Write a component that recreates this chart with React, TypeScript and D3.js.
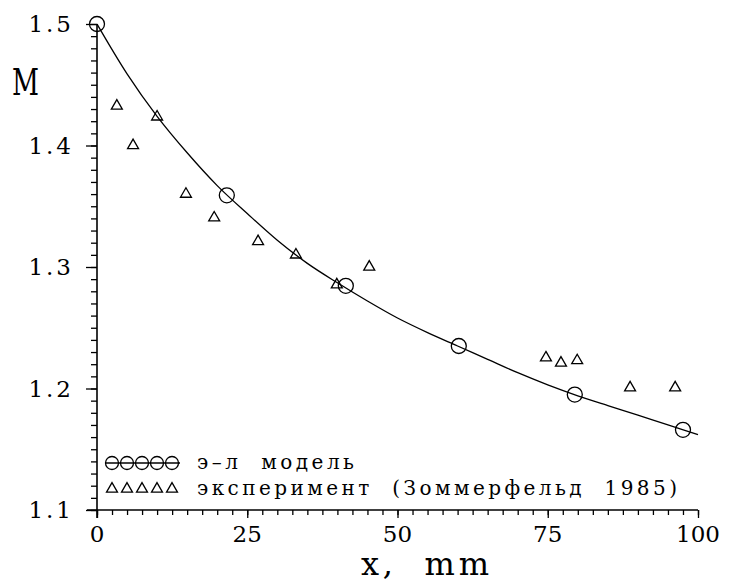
import React, { useEffect, useRef } from "react";
import * as d3 from "d3";

// model curve
const curveX = [0, 5, 10, 15, 20, 25, 30, 35, 40, 45, 50, 55, 60, 65, 70, 75, 80, 85, 90, 95, 100];
const curveM = [1.5, 1.459, 1.424, 1.394, 1.367, 1.344, 1.322, 1.303, 1.287, 1.272, 1.258, 1.246, 1.235, 1.224, 1.213, 1.203, 1.194, 1.186, 1.178, 1.17, 1.162];

// э-л модель markers
const modelX = [0, 21.6, 41.4, 60.2, 79.5, 97.5];
const modelM = [1.5, 1.359, 1.2845, 1.235, 1.195, 1.166];

// эксперимент (Зоммерфельд 1985)
const expX = [3.3, 6.0, 10.0, 14.8, 19.5, 26.8, 33.1, 39.9, 45.3, 74.7, 77.2, 79.9, 88.7, 96.2];
const expM = [1.4326, 1.4, 1.4236, 1.36, 1.3405, 1.321, 1.31, 1.2854, 1.3, 1.2253, 1.221, 1.223, 1.2007, 1.2007];

const xTicks = [0, 25, 50, 75, 100];
const yTicks = [1.1, 1.2, 1.3, 1.4, 1.5];
const legendLabels = ["э\u2013л  модель", "эксперимент  (Зоммерфельд  1985)"];
const legendWidths = [157, 480];

export default function App() {
  const ref = useRef<SVGSVGElement | null>(null);

  useEffect(() => {
    const svg = d3.select(ref.current);
    svg.selectAll("*").remove();

    const width = 742;
    const height = 582;
    const x = d3.scaleLinear().domain([0, 100]).range([97, 698]);
    const y = d3.scaleLinear().domain([1.1, 1.5]).range([510, 24]);
    const font = "'DejaVu Serif', 'Liberation Serif', serif";
    const sw = 1.3;

    svg.attr("width", width).attr("height", height);
    svg.append("rect").attr("width", width).attr("height", height).attr("fill", "#fff");

    // y axis: minor every 0.01, major every 0.1, ticks outward
    const yMinor = d3.range(110, 151).map((v) => v / 100);
    const gy = svg.append("g").attr("transform", `translate(${x(0)},0)`);
    gy.call(d3.axisLeft(y).tickValues(yMinor).tickSize(6).tickSizeOuter(0).tickFormat(() => ""));
    gy.append("g").call(d3.axisLeft(y).tickValues(yTicks).tickSize(11).tickSizeOuter(0).tickFormat(() => ""));
    gy.selectAll(".domain").remove();
    gy.selectAll("line").attr("stroke", "#000").attr("stroke-width", sw);

    // x axis: minor every 2.5, major every 25, ticks outward
    const xMinor = d3.range(0, 41).map((i) => i * 2.5);
    const gx = svg.append("g").attr("transform", `translate(0,${y(1.1)})`);
    gx.call(d3.axisBottom(x).tickValues(xMinor).tickSize(5).tickSizeOuter(0).tickFormat(() => ""));
    gx.append("g").call(d3.axisBottom(x).tickValues(xTicks).tickSize(8).tickSizeOuter(0).tickFormat(() => ""));
    gx.selectAll(".domain").remove();
    gx.selectAll("line").attr("stroke", "#000").attr("stroke-width", sw);

    // spines
    svg.append("line")
      .attr("x1", x(0)).attr("x2", x(0))
      .attr("y1", y(1.5)).attr("y2", y(1.1) + 8)
      .attr("stroke", "#000").attr("stroke-width", sw + 0.3);
    svg.append("line")
      .attr("x1", x(0) - 10).attr("x2", x(100))
      .attr("y1", y(1.1)).attr("y2", y(1.1))
      .attr("stroke", "#000").attr("stroke-width", sw + 0.3);

    // tick labels
    svg.append("g").selectAll("text").data(yTicks).join("text")
      .attr("x", 74).attr("y", (d) => y(d) + 8)
      .attr("text-anchor", "end")
      .attr("font-family", font).attr("font-size", 23)
      .attr("letter-spacing", 3)
      .text((d) => d.toFixed(1));

    svg.append("g").selectAll("text").data(xTicks).join("text")
      .attr("x", (d) => x(d)).attr("y", 542)
      .attr("text-anchor", "middle")
      .attr("font-family", font).attr("font-size", 23)
      .text((d) => String(d));

    // axis titles
    svg.append("text")
      .attr("x", 12).attr("y", 95)
      .attr("font-family", font).attr("font-size", 38)
      .attr("textLength", 27).attr("lengthAdjust", "spacingAndGlyphs")
      .text("M");
    svg.append("text")
      .attr("x", 361).attr("y", 575)
      .attr("font-family", font).attr("font-size", 32)
      .attr("textLength", 128).attr("lengthAdjust", "spacing")
      .style("white-space", "pre")
      .text("x,  mm");

    // model curve
    const line = d3.line<number>()
      .x((_, i) => x(curveX[i]))
      .y((d) => y(d))
      .curve(d3.curveMonotoneX);
    svg.append("path")
      .attr("d", line(curveM))
      .attr("fill", "none").attr("stroke", "#000").attr("stroke-width", sw);

    // model markers
    svg.append("g").selectAll("circle").data(modelM).join("circle")
      .attr("cx", (_, i) => x(modelX[i])).attr("cy", (d) => y(d))
      .attr("r", 7.5)
      .attr("fill", "none").attr("stroke", "#000").attr("stroke-width", sw);

    // experiment markers
    const tri = d3.symbol().type(d3.symbolTriangle).size(52);
    svg.append("g").selectAll("path").data(expM).join("path")
      .attr("transform", (d, i) => `translate(${x(expX[i])},${y(d)})`)
      .attr("d", tri())
      .attr("fill", "none").attr("stroke", "#000").attr("stroke-width", sw);

    // legend
    const lg = svg.append("g");
    const symX = d3.range(5).map((i) => 112 + i * 15);
    lg.append("line")
      .attr("x1", 105).attr("x2", 180).attr("y1", 463).attr("y2", 463)
      .attr("stroke", "#000").attr("stroke-width", sw);
    lg.selectAll("circle").data(symX).join("circle")
      .attr("cx", (d) => d).attr("cy", 463).attr("r", 6.5)
      .attr("fill", "none").attr("stroke", "#000").attr("stroke-width", sw);
    lg.selectAll("path").data(symX).join("path")
      .attr("transform", (d) => `translate(${d},489)`)
      .attr("d", tri())
      .attr("fill", "none").attr("stroke", "#000").attr("stroke-width", sw);
    lg.selectAll("text").data(legendLabels).join("text")
      .attr("x", 197).attr("y", (_, i) => 469 + i * 26)
      .attr("font-family", font).attr("font-size", 20)
      .attr("textLength", (_, i) => legendWidths[i]).attr("lengthAdjust", "spacing")
      .style("white-space", "pre")
      .text((d) => d);
  }, []);

  return (
    <svg ref={ref} style={{ position: "absolute", left: 0, top: 0, display: "block" }} />
  );
}
